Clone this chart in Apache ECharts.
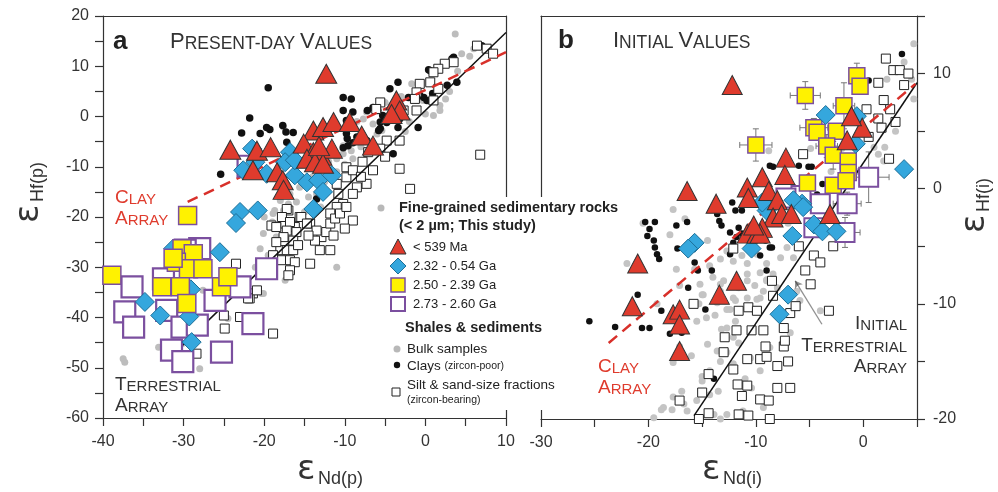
<!DOCTYPE html>
<html>
<head>
<meta charset="utf-8">
<script src="https://cdn.jsdelivr.net/npm/echarts@6/dist/echarts.min.js"></script>
<style>
  html, body { margin: 0; padding: 0; background: #fff; }
  #chart { width: 998px; height: 492px; }
</style>
</head>
<body>
<div id="chart"></div>
<script>
// ---------- panel a : present-day values (eNd(p), eHf(p)) ----------
const triA = [[-12.3,8.5],[-24.2,-6.6],[-20.9,-6.8],[-19.2,-6.1],[-21.4,-10.7],[-18.4,-11.1],[-17.7,-12.7],[-17.6,-14.6],
  [-13.9,-2.8],[-12.7,-2.1],[-11.4,-1.1],[-9.4,-1.1],[-15.1,-5.4],[-13.9,-7.1],[-12.9,-7.8],[-11.6,-6.4],
  [-14.7,-8.4],[-13.7,-9.1],[-12.7,-9.4],[-7.9,-3.8],[-6.5,-5.8],[-3.6,3.2],[-3.2,1.2],[-4.2,0.5],[-13.2,-5.9]];
const diaA = [[-22.6,-10.7],[-21.1,-9.1],[-19.7,-11.4],[-16.8,-7.1],[-16.2,-11.7],[-14.7,-13.1],[-13.3,-12.7],[-12.7,-15.0],
  [-11.6,-11.7],[-13.9,-18.4],[-23.0,-19.0],[-20.8,-18.7],[-23.5,-21.2],[-17.4,-9.1],[-21.5,-6.4],[-16.2,-8.7],
  [-14.1,-8.2],[-25.5,-27.0],[-31.3,-26.3],[-34.8,-36.9],[-32.9,-39.6],[-29.3,-39.8],[-29.0,-44.9],[-29.1,-34.4]];
const yelA = [[-29.5,-19.7],[-38.9,-31.6],[-30.2,-26.3],[-28.8,-27.3],[-30.9,-29.0],[-29.4,-30.3],[-27.6,-30.3],
  [-32.7,-33.9],[-30.4,-33.9],[-29.6,-37.2],[-25.3,-33.9],[-24.5,-31.9],[-31.3,-28.2]];
const purA = [[-36.4,-33.9],[-37.3,-38.9],[-36.2,-41.9],[-32.1,-38.6],[-32.5,-32.3],[-28.0,-26.3],[-26.1,-36.6],
  [-23.0,-33.9],[-19.7,-30.3],[-21.4,-41.2],[-25.3,-46.9],[-31.5,-46.5],[-30.1,-48.8],[-30.2,-41.9],[-22.0,-9.9],
  [-29.8,-26.6],[-28.3,-41.5]];
const blkA = [[-19.5,5.7],[-21.8,-0.3],[-22.8,-3.3],[-25.4,-11.5],[-19.3,-2.6],[-17.3,-3.1],[-17.2,-5.1],[-10.2,3.8],
  [-9.2,3.5],[-10.2,1.2],[-9.0,0.9],[-6.5,1.8],[-5.9,1.2],[-3.4,6.8],[-4.4,5.5],[-2.1,3.8],[-0.7,4.2],[-0.2,3.8],
  [0.4,9.3],[3.5,11.8],[7.0,14.1],[-3.2,-0.5],[-13.5,-16.4],[-17.7,-1.8],[-16.4,-3.2],[-19.7,-2.2],[-20.5,-3.4],
  [-7.2,1.2],[-6.0,1.8],[-5.3,0.2],[-4.8,-1.2],[-5.6,-2.4],[-9.7,-4.4],[-9.0,-5.2],[-10.2,-6.2],[-4.0,-7.4],
  [-3.4,-2.2],[-0.9,-2.2],[0.2,3.2],[0.9,4.6],[2.7,6.2],[3.9,6.8],[3.3,11.5],[0.6,9.1],[-9.8,-0.8],[-9.0,-1.8],
  [-9.8,-3.4],[-8.5,-4.1],[-9.6,-5.8],[-7.3,-4.8],[-5.8,-2.8],[-5.6,-1.1]];
const silA = [[6.4,14.1],[7.6,13.5],[8.4,12.5],[3.5,10.8],[2.4,10.5],[1.6,9.5],[1.0,8.8],[-0.7,6.5],[0.6,6.8],
  [1.6,5.5],[-1.1,4.8],[-1.3,3.5],[1.0,3.2],[-2.7,1.2],[-1.1,1.2],[-5.6,2.8],[-6.1,1.5],[-4.2,-0.1],[-4.8,-4.8],
  [-3.2,-4.8],[-5.6,-6.4],[-7.1,-7.1],[-6.5,-10.7],[-3.2,-10.4],[-1.9,-14.4],[-7.3,-13.4],[-8.5,-14.1],[-9.0,-15.4],
  [-10.2,-17.4],[-11.0,-18.0],[-11.8,-19.3],[6.8,-7.6],[-9.8,-10.1],[-9.8,-12.1],[-9.0,-10.7],[-11.0,-13.4],
  [-10.8,-15.4],[-17.0,-18.7],[-15.6,-20.0],[-14.3,-21.3],[-19.1,-21.7],[-17.4,-21.3],[-16.2,-22.0],[-17.2,-18.4],
  [-17.8,-20.0],[-16.8,-21.0],[-15.4,-20.0],[-14.7,-21.3],[-16.0,-23.0],[-17.2,-22.7],[-18.5,-22.0],[-17.6,-24.0],
  [-16.4,-24.7],[-18.0,-26.6],[-17.2,-26.6],[-16.4,-26.6],[-15.8,-25.6],[-18.5,-25.0],[-17.8,-28.6],[-16.8,-28.6],
  [-16.2,-29.0],[-14.3,-29.3],[-16.8,-30.6],[-17.0,-31.6],[-21.4,-35.2],[-18.9,-43.2],[-13.1,-26.6],[-11.8,-26.6],
  [-12.9,-24.0],[-12.3,-23.0],[-13.7,-24.7],[-11.8,-21.3],[-11.2,-20.3],[-10.6,-19.3],[-9.8,-18.0],[-9.0,-20.7],
  [-11.4,-23.7],[-10.0,-22.3],[-13.5,-22.7],[-14.5,-23.7],[-18.9,-27.6],[-21.8,-36.2],[-23.5,-29.3],[-25.0,-39.6],
  [-23.0,-39.9],[-24.9,-42.2],[-22.0,-36.2],[-20.9,-34.6],[-28.4,-47.2],[-7.8,-9.0],[-5.0,-8.0],[-8.0,-12.0]];
const greyA = [[3.7,16.4],[4.5,12.5],[-1.7,6.5],[-5.0,2.8],[-4.2,2.2],[-3.2,1.5],[-7.3,0.9],[-7.7,-0.5],[-10.2,-5.8],
  [-9.2,-6.8],[-10.2,-7.4],[-11.0,-8.4],[-9.0,-8.4],[-17.6,-2.1],[1.8,1.2],[1.0,0.2],[-0.3,3.2],[-5.4,-2.8],
  [-15.6,-14.1],[-16.8,-15.4],[-18.0,-16.7],[-17.6,-18.7],[-18.9,-19.3],[-20.1,-23.3],[-20.5,-26.3],[-19.1,-27.3],
  [-19.7,-30.0],[-21.1,-30.0],[-20.3,-35.2],[-17.4,-32.6],[-11.0,-30.0],[-18.7,-18.7],[-17.0,-17.4],[-13.5,-15.4],
  [-6.1,-18.0],[-37.5,-48.2],[-37.3,-48.9],[-33.1,-45.9],[-31.3,-44.9],[-30.2,-45.2],[-28.0,-50.2],[-27.6,-34.6],
  [-25.9,-35.2],[-28.6,-42.2],[-20.1,-35.2],[-19.5,-27.6],[-24.5,-40.2],[1.8,2.2],[-8.0,-6.0],[-7.0,-5.0],
  [-6.0,-3.5],[-12.0,-9.0],[-13.0,-11.0],[-14.0,-12.0],[-15.0,-12.5],[-12.5,-13.0],[-11.0,-11.0],[-10.0,-9.5],
  [-14.5,-16.0],[-16.0,-17.0],[-19.0,-21.0],[-18.5,-24.0],[-20.0,-20.0],[-15.0,-19.0],[-13.0,-18.0],[-2.0,-1.0],
  [0.0,0.5],[2.5,3.5],[3.0,5.0],[4.0,9.0],[5.5,12.0],[6.0,13.5],[-1.0,5.0],[-3.0,4.0],[-2.5,-3.0],[-6.5,-1.5],[-8.5,-1.0]];
const terrA = [[-30.1,-45.5],[10,16.7]];
const clayA = [[-29.5,-17.0],[10,12.8]];

// ---------- panel b : initial values (eNd(i), eHf(i)) ----------
const triB = [[-12.2,9.0],[-16.4,-0.2],[-13.7,-1.3],[-7.2,2.7],[-7.3,1.2],[-9.4,1.0],[-10.8,0.1],[-10.7,-0.8],
  [-8.8,-0.2],[-8.0,-1.0],[-8.4,-2.5],[-9.4,-3.4],[-7.6,-2.2],[-6.7,-2.2],[-3.1,-2.2],[-0.1,5.3],[-1.5,4.2],
  [-1.1,6.3],[-10.8,-3.9],[-9.9,-3.9],[-21.0,-6.5],[-21.5,-10.2],[-17.7,-10.9],[-17.1,-10.5],[-17.1,-11.8],
  [-17.1,-14.1],[-13.4,-9.2],[-11.8,-8.0],[-9.6,-3.9],[-10.2,-3.2]];
const diaB = [[3.8,1.7],[-3.5,6.4],[-0.6,6.3],[-0.7,3.9],[-5.7,-1.3],[-6.5,-1.0],[-6.6,-4.1],[-4.6,-3.1],
  [-3.8,-3.7],[-2.5,-3.7],[-9.0,-1.9],[-15.7,-4.7],[-16.3,-5.2],[-10.4,-5.2],[-5.6,-1.6],[-9.4,-1.2],[-7.0,-9.2],[-7.8,-10.9]];
const yelB = [[-0.6,9.8],[-0.3,8.9],[-5.4,8.1],[-1.8,7.2],[-10.0,3.8],[-4.6,5.3],[-4.3,4.9],[-2.5,5.0],[-3.4,3.7],
  [-2.8,2.9],[-1.4,2.4],[-1.4,1.4],[-5.2,0.5],[-2.8,0.3],[-1.6,0.7]];
const yelBErr = [[0.5,1.1],[0,0],[1.4,1.2],[1.0,2.0],[1.5,1.4],[1.3,0.8],[0,0],[0,0],[1.0,1.0],[0,1.2],[0,0],[0,0],[0,0],[0,0],[0,0]];
const purB = [[0.5,1.0],[-1.5,-1.3],[-1.7,-3.8],[-4.0,-1.3],[-5.8,-0.6],[-7.2,-0.8],[-4.6,-3.4]];
const purBErr = [[1.9,2.2],[1.3,1.0],[1.4,1.3],[0,0],[0,0],[0,0],[0,0]];
const blkB = [[-20.3,-2.9],[-19.4,-2.9],[-19.9,-3.5],[-20.1,-4.1],[-19.5,-4.5],[-19.4,-5.1],[-19.2,-5.7],[-19.0,-6.1],
  [-17.4,-3.2],[-16.4,-2.9],[-17.3,-5.2],[-13.6,-2.2],[-13.4,-2.8],[-13.2,-3.2],[-12.2,-1.2],[-11.9,-1.9],[-11.3,-1.9],
  [-12.4,-3.8],[-11.8,-4.2],[-11.3,-3.9],[-11.0,-4.4],[-11.6,-3.4],[-9.6,-5.8],[-8.5,-5.1],[-9.1,-4.5],[-15.7,-6.4],
  [-14.1,-7.1],[-16.3,-8.6],[-21.0,-9.2],[-8.7,2.0],[-6.0,2.0],[-5.1,1.9],[-18.8,-10.6],[-20.6,-12.1],[-19.9,-12.1],
  [-18.0,-12.6],[-16.9,-12.5],[-14.7,-10.5],[-13.9,-16.5],[-15.4,-7.1],[-25.5,-11.5],[-23.1,-12.0],[-12.4,-5.7],
  [-12.1,-4.7],[-9.0,-7.1],[-8.7,-5.1],[3.6,11.7],[0.5,9.4],[-8.4,1.9],[-4.8,1.9],[-3.8,0.4],[-4.3,-0.5]];
const silB = [[2.1,11.3],[2.8,10.3],[3.4,10.3],[4.2,10.0],[3.8,9.0],[1.4,9.2],[1.9,7.7],[2.5,6.9],[0.3,6.9],[1.4,6.1],
  [3.0,5.8],[0.5,4.5],[2.4,2.6],[-5.6,3.0],[1.7,5.3],[-12.1,-5.2],[-15.8,-10.0],[-12.9,-12.9],[-13.0,-14.2],
  [-12.1,-15.7],[-14.4,-16.1],[-15.0,-17.7],[-17.1,-18.4],[-14.4,-19.5],[-15.3,-20.0],[-18.0,-20.1],[-11.6,-10.6],
  [-10.7,-10.3],[-9.9,-10.6],[-11.8,-12.3],[-10.4,-12.3],[-9.3,-12.3],[-9.1,-13.7],[-7.4,-13.7],[-7.3,-13.2],
  [-10.8,-14.8],[-9.6,-14.8],[-9.0,-14.6],[-8.0,-15.4],[-7.0,-15.0],[-11.7,-17.0],[-10.8,-17.1],[-11.3,-18.0],
  [-9.6,-18.3],[-8.8,-18.4],[-8.0,-17.3],[-6.8,-17.3],[-11.6,-19.6],[-10.7,-19.7],[-8.7,-20.0],[-8.5,-8.0],
  [-8.4,-9.3],[-6.0,-5.0],[-4.6,-5.8],[-4.0,-6.4],[-5.4,-7.1],[-4.9,-8.3],[-3.2,-10.6],[-6.8,-10.8],[-6.3,-10.2],
  [-7.4,-12.1],[-2.8,-5.0]];
const greyB = [[-18.6,-19.0],[-17.7,-18.1],[-16.9,-17.6],[-15.0,-16.7],[-16.7,-18.7],[-15.5,-18.4],[-14.3,-15.8],
  [-13.3,-15.0],[-13.6,-14.1],[-12.7,-14.2],[-12.1,-12.9],[-11.6,-13.4],[-12.7,-12.1],[-13.8,-11.0],[-14.6,-11.2],
  [-15.5,-11.5],[-15.3,-10.0],[-15.0,-9.2],[-13.6,-9.9],[-12.4,-10.5],[-11.9,-11.5],[-10.7,-10.3],[-9.9,-9.6],
  [-10.1,-8.4],[-9.3,-8.9],[-9.0,-7.9],[-10.8,-8.0],[-11.6,-8.6],[-13.3,-8.9],[-13.0,-8.0],[-15.8,-10.0],[-19.2,-10.0],
  [-16.4,-19.3],[-18.8,-19.2],[-4.0,-10.6],[-6.2,-8.9],[-5.9,-9.7],[-13.2,-12.2],[-12.1,-15.2],[-10.5,-14.7],
  [-9.6,-15.8],[-8.7,-13.8],[-10.4,-17.3],[-13.5,-17.6],[-14.3,-17.9],[-12.7,-19.6],[-11.2,-19.3],[-9.3,-19.0],
  [-19.5,-19.9],[-17.7,-1.8],[-16.6,-2.6],[-17.4,-7.0],[-15.7,-7.0],[-14.3,-6.7],[-13.3,-6.1],[-12.7,-5.4],
  [-12.1,-6.3],[-11.3,-5.8],[-10.8,-6.5],[-9.9,-5.7],[-10.8,-7.4],[-9.6,-7.3],[-9.0,-8.0],[-8.4,-7.4],[-8.0,-8.6],
  [-9.6,-9.5],[-10.8,-9.5],[-12.1,-9.5],[-14.0,-7.7],[-13.3,-8.3],[-11.9,-9.7],[-10.2,-10.5],[-12.7,-10.5],
  [-15.2,-8.3],[-14.9,-9.2],[-17.1,-8.4],[-7.7,-6.0],[-6.5,-6.0],[-7.1,-5.1],[-9.0,-6.5],[-22.0,-6.5],[-17.1,-13.7],
  [-17.7,-15.1],[-17.8,-19.2],[-15.0,-16.3],[-13.9,-19.6],[-13.3,-20.0],[4.7,12.6],[3.8,11.0],[4.7,7.8],[2.2,9.5],
  [1.0,3.6],[1.9,2.4],[2.0,3.6],[-4.9,3.5],[1.4,3.0],[-8.8,3.3],[-14.5,-13.5],[-16.0,-14.5],[-11.0,-16.5],
  [-7.5,-11.0],[-6.8,-12.5],[-20.5,-3.0],[-18.0,-4.0],[-14.5,-4.5],[-7.0,-3.0],[-3.0,1.5],[3.0,5.0],[4.5,9.5],
  [-2.0,3.5],[-0.5,1.5]];
const terrB = [[-15.75,-19.7],[5,9.2]];
const clayB = [[-23.7,-13.4],[4.85,9.1]];
const arrowB = [[-3.85,-11.77],[-6.34,-8.0]];

const FONT = '"Liberation Sans", Arial, sans-serif';
const AX = '#333';
const RED = '#df3b2d';
const BLUE = '#35a7dd';
const PURPLE = '#7b4f9f';
const YELLOW = '#fff200';

function tickLabel(v) { return v % 10 === 0 ? String(v) : ''; }

function mainAxis(grid, pos, min, max, margin) {
  return {
    gridIndex: grid, type: 'value', position: pos, min, max, interval: 5,
    axisLine: { onZero: false, lineStyle: { color: AX, width: 1.2 } },
    axisTick: { length: 8, lineStyle: { color: AX, width: 1.2 } },
    axisLabel: { formatter: tickLabel, margin, fontSize: 16, color: AX, fontFamily: FONT },
    splitLine: { show: false }
  };
}
function frameAxis(grid, pos, min, max) {
  return {
    gridIndex: grid, type: 'value', position: pos, min, max,
    axisLine: { onZero: false, lineStyle: { color: AX, width: 1.2 } },
    axisTick: { show: false }, axisLabel: { show: false }, splitLine: { show: false }
  };
}

function scatter(name, data, panel, symbol, size, fill, border, bw, z) {
  return {
    name, type: 'scatter', data, symbol, symbolSize: size, z,
    xAxisIndex: panel === 'a' ? 0 : 2, yAxisIndex: panel === 'a' ? 0 : 2,
    itemStyle: { color: fill, borderColor: border, borderWidth: bw, opacity: 1 },
    silent: true
  };
}
function trend(data, panel, color, width, type) {
  return {
    type: 'line', data, symbol: 'none', z: 5, silent: true,
    xAxisIndex: panel === 'a' ? 0 : 2, yAxisIndex: panel === 'a' ? 0 : 2,
    lineStyle: { color, width, type }
  };
}

const errData = yelB.map((p, i) => [p[0], p[1], yelBErr[i][0], yelBErr[i][1]])
  .concat(purB.map((p, i) => [p[0], p[1], purBErr[i][0], purBErr[i][1]]));

function smallCaps(s) {
  return s.split(' ').map(w => '{b|' + w[0] + '}{s|' + w.slice(1) + '}').join('{s| }');
}
function capsText(x, y, s, color, big, small, align) {
  return {
    type: 'text', x, y, z: 60,
    style: {
      text: smallCaps(s), fill: color, align: align || 'left', verticalAlign: 'middle',
      rich: {
        b: { fontSize: big, fontFamily: FONT, fill: color, verticalAlign: 'bottom', lineHeight: big },
        s: { fontSize: small, fontFamily: FONT, fill: color, verticalAlign: 'bottom', lineHeight: big }
      }
    }
  };
}
function txt(x, y, text, size, extra) {
  return {
    type: 'text', x, y, z: 60,
    style: Object.assign({ text, fontSize: size, fontFamily: FONT, fill: '#222', align: 'left', verticalAlign: 'middle' }, extra || {})
  };
}
function axisTitle(x, y, rot, sub) {
  return {
    type: 'group', x, y, rotation: rot, z: 60,
    children: [
      { type: 'text', x: 0, y: 0, style: { text: 'ε', fontSize: 34, fontFamily: '"DejaVu Sans", sans-serif', fill: '#333', align: 'left', verticalAlign: 'middle' } },
      { type: 'text', x: 21, y: 9, style: { text: sub, fontSize: 18, fontFamily: FONT, fill: '#333', align: 'left', verticalAlign: 'middle' } }
    ]
  };
}

const graphics = [
  // white background behind the key, hiding the inner frame lines
  { type: 'rect', z: 50, shape: { x: 368, y: 197, width: 178, height: 213 }, style: { fill: '#fff' } },
  // key
  { type: 'circle', z: 55, shape: { cx: 381, cy: 208, r: 3.5 }, style: { fill: '#b8b8b8' } },
  txt(399, 208, 'Fine-grained sedimentary rocks', 14.5, { fontWeight: 'bold' }),
  txt(399, 226, '(< 2 µm; This study)', 14.5, { fontWeight: 'bold' }),
  { type: 'polygon', z: 55, shape: { points: [[398, 239], [390, 254], [406, 254]] }, style: { fill: RED, stroke: '#333', lineWidth: 1 } },
  txt(413, 247, '< 539 Ma', 13),
  { type: 'polygon', z: 55, shape: { points: [[398, 258], [406, 266], [398, 274], [390, 266]] }, style: { fill: BLUE, stroke: '#1d6f98', lineWidth: 1 } },
  txt(413, 266, '2.32 - 0.54 Ga', 13),
  { type: 'rect', z: 55, shape: { x: 391, y: 278, width: 14, height: 14 }, style: { fill: YELLOW, stroke: PURPLE, lineWidth: 1.5 } },
  txt(413, 285, '2.50 - 2.39 Ga', 13),
  { type: 'rect', z: 55, shape: { x: 391, y: 297, width: 14, height: 14 }, style: { fill: '#fff', stroke: PURPLE, lineWidth: 2 } },
  txt(413, 304, '2.73 - 2.60 Ga', 13),
  txt(405, 328, 'Shales & sediments', 14.5, { fontWeight: 'bold' }),
  { type: 'circle', z: 55, shape: { cx: 397, cy: 349, r: 3.5 }, style: { fill: '#b8b8b8' } },
  txt(407, 349, 'Bulk samples', 13.5),
  { type: 'circle', z: 55, shape: { cx: 397, cy: 365, r: 3.2 }, style: { fill: '#111' } },
  txt(407, 366, '{a|Clays }{c|(zircon-poor)}', 13.5, { rich: { a: { fontSize: 13.5, fontFamily: FONT, fill: '#222' }, c: { fontSize: 10.5, fontFamily: FONT, fill: '#222' } } }),
  { type: 'rect', z: 55, shape: { x: 392, y: 388, width: 8, height: 8 }, style: { fill: '#fff', stroke: '#222', lineWidth: 1 } },
  txt(407, 385, 'Silt & sand-size fractions', 13.5),
  txt(407, 400, '(zircon-bearing)', 10.5),
  // panel titles
  txt(113, 42, 'a', 26, { fontWeight: 'bold', fill: '#222' }),
  capsText(170, 42, 'PRESENT-DAY VALUES', '#333', 22, 17.5),
  txt(558, 41, 'b', 26, { fontWeight: 'bold', fill: '#222' }),
  capsText(613, 41, 'INITIAL VALUES', '#333', 22, 17.5),
  // array labels
  capsText(115, 198, 'CLAY', RED, 19, 15),
  capsText(115, 219, 'ARRAY', RED, 19, 15),
  capsText(115, 385, 'TERRESTRIAL', '#333', 19, 15),
  capsText(115, 406, 'ARRAY', '#333', 19, 15),
  capsText(598, 367, 'CLAY', RED, 19, 15),
  capsText(598, 388, 'ARRAY', RED, 19, 15),
  capsText(907, 324, 'INITIAL', '#333', 19, 15, 'right'),
  capsText(907, 346, 'TERRESTRIAL', '#333', 19, 15, 'right'),
  capsText(907, 367, 'ARRAY', '#333', 19, 15, 'right'),
  // axis titles
  axisTitle(297, 470, 0, 'Nd(p)'),
  axisTitle(702, 470, 0, 'Nd(i)'),
  axisTitle(29, 223, Math.PI / 2, 'Hf(p)'),
  axisTitle(975, 233, Math.PI / 2, 'Hf(i)')
];

const option = {
  animation: false,
  backgroundColor: '#fff',
  grid: [
    { left: 103, top: 16, width: 403, height: 402, show: false },
    { left: 541, top: 16, width: 376, height: 403, show: false }
  ],
  xAxis: [
    mainAxis(0, 'bottom', -40, 10, 16),
    frameAxis(0, 'top', -40, 10),
    mainAxis(1, 'bottom', -30, 5, 16),
    frameAxis(1, 'top', -30, 5)
  ],
  yAxis: [
    mainAxis(0, 'left', -60, 20, 14),
    frameAxis(0, 'right', -60, 20),
    mainAxis(1, 'right', -20, 15, 16),
    frameAxis(1, 'left', -20, 15)
  ],
  series: [
    scatter('Bulk samples a', greyA, 'a', 'circle', 7, '#bdbdbd', '#bdbdbd', 0, 2),
    scatter('Clays a', blkA, 'a', 'circle', 7.5, '#111', '#111', 0, 3),
    scatter('Silt a', silA, 'a', 'rect', 9, '#fff', '#222', 1, 4),
    trend(terrA, 'a', '#111', 1.5, 'solid'),
    trend(clayA, 'a', '#d8302a', 2.5, [11, 7]),
    scatter('2.73 - 2.60 Ga a', purA, 'a', 'rect', 21, '#fff', PURPLE, 2.2, 6),
    scatter('2.32 - 0.54 Ga a', diaA, 'a', 'diamond', 19, BLUE, '#1d6f98', 1, 7),
    scatter('2.50 - 2.39 Ga a', yelA, 'a', 'rect', 18, YELLOW, PURPLE, 1.5, 8),
    scatter('< 539 Ma a', triA, 'a', 'triangle', [21, 19], RED, '#333', 1, 9),

    scatter('Bulk samples b', greyB, 'b', 'circle', 7, '#c4c4c4', '#c4c4c4', 0, 2),
    scatter('Clays b', blkB, 'b', 'circle', 6.5, '#111', '#111', 0, 3),
    scatter('Silt b', silB, 'b', 'rect', 9, '#fff', '#222', 1, 4),
    trend(terrB, 'b', '#111', 1.5, 'solid'),
    trend(clayB, 'b', '#d8302a', 2.5, [11, 7]),
    {
      type: 'lines', coordinateSystem: 'cartesian2d', xAxisIndex: 2, yAxisIndex: 2, z: 5, silent: true,
      data: [{ coords: arrowB }], symbol: ['none', 'arrow'], symbolSize: 7,
      lineStyle: { color: '#222', width: 1.3 }
    },
    {
      type: 'custom', xAxisIndex: 2, yAxisIndex: 2, z: 5, silent: true, data: errData,
      renderItem(params, api) {
        const x = api.value(0), y = api.value(1), ex = api.value(2), ey = api.value(3);
        const st = { stroke: '#777', lineWidth: 1 };
        const kids = [];
        if (ex > 0) {
          const a = api.coord([x - ex, y]), b = api.coord([x + ex, y]);
          kids.push({ type: 'line', shape: { x1: a[0], y1: a[1], x2: b[0], y2: b[1] }, style: st });
          kids.push({ type: 'line', shape: { x1: a[0], y1: a[1] - 3, x2: a[0], y2: a[1] + 3 }, style: st });
          kids.push({ type: 'line', shape: { x1: b[0], y1: b[1] - 3, x2: b[0], y2: b[1] + 3 }, style: st });
        }
        if (ey > 0) {
          const a = api.coord([x, y - ey]), b = api.coord([x, y + ey]);
          kids.push({ type: 'line', shape: { x1: a[0], y1: a[1], x2: b[0], y2: b[1] }, style: st });
          kids.push({ type: 'line', shape: { x1: a[0] - 3, y1: a[1], x2: a[0] + 3, y2: a[1] }, style: st });
          kids.push({ type: 'line', shape: { x1: b[0] - 3, y1: b[1], x2: b[0] + 3, y2: b[1] }, style: st });
        }
        return { type: 'group', children: kids };
      }
    },
    scatter('2.73 - 2.60 Ga b', purB, 'b', 'rect', 19, '#fff', PURPLE, 2, 6),
    scatter('2.50 - 2.39 Ga b', yelB, 'b', 'rect', 16, YELLOW, PURPLE, 1.5, 7),
    scatter('2.32 - 0.54 Ga b', diaB, 'b', 'diamond', 19, BLUE, '#1d6f98', 1, 8),
    scatter('< 539 Ma b', triB, 'b', 'triangle', [20, 19], RED, '#333', 1, 9)
  ],
  graphic: graphics
};

const chart = echarts.init(document.getElementById('chart'), null, { renderer: 'canvas' });
chart.setOption(option);
</script>
</body>
</html>
